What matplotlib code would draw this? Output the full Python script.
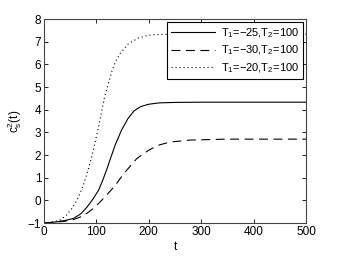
import matplotlib
matplotlib.use("Agg")
import matplotlib.pyplot as plt

# values
t_a = [0, 20, 40, 56, 70, 82, 93, 104, 112, 120, 128, 136, 148, 160, 172, 185, 200, 220, 250, 300, 400, 500]
c_a = [-1.0, -0.96, -0.89, -0.8, -0.6, -0.3, 0.04, 0.44, 0.88, 1.38, 1.92, 2.45, 3.1, 3.6, 3.95, 4.14, 4.24, 4.3, 4.32, 4.33, 4.33, 4.33]

t_b = [0, 20, 40, 55, 69, 82, 94, 105, 116, 126, 136, 145, 155, 166, 177, 190, 202, 218, 240, 280, 350, 500]
c_b = [-1.0, -0.97, -0.92, -0.86, -0.74, -0.57, -0.36, -0.12, 0.15, 0.4, 0.66, 0.95, 1.25, 1.55, 1.84, 2.06, 2.24, 2.43, 2.57, 2.66, 2.7, 2.7]

t_c = [0, 15, 30, 42, 53, 60, 66, 75, 85, 94, 104, 110, 116, 123, 129, 136, 145, 161, 180, 199, 215, 240, 300, 500]
c_c = [-1.0, -0.96, -0.88, -0.68, -0.36, -0.1, 0.15, 0.66, 1.4, 2.2, 3.23, 3.9, 4.6, 5.15, 5.66, 6.1, 6.47, 6.91, 7.16, 7.28, 7.31, 7.33, 7.33, 7.33]

labels = ["T$_1$=\u221225,T$_2$=100", "T$_1$=\u221230,T$_2$=100", "T$_1$=\u221220,T$_2$=100"]

plt.rcParams['font.family'] = ['Liberation Sans', 'DejaVu Sans']
plt.rcParams['mathtext.fontset'] = 'custom'
plt.rcParams['mathtext.rm'] = 'Liberation Sans'
plt.rcParams['mathtext.it'] = 'Liberation Sans'
plt.rcParams['axes.unicode_minus'] = True

fig = plt.figure(figsize=(3.39, 2.56), dpi=100)
ax = fig.add_axes([44 / 339, 1 - 223 / 256, 262 / 339, 204 / 256])

ax.plot(t_a, c_a, color='black', lw=0.8, ls='-', label=labels[0])
ax.plot(t_b, c_b, color='black', lw=0.8, ls=(0, (8, 5)), label=labels[1])
ax.plot(t_c, c_c, color='black', lw=0.8, ls=(0, (1, 2.6)), label=labels[2])

ax.set_xlim(0, 500)
ax.set_ylim(-1, 8)
ax.set_xticks(range(0, 501, 100))
ax.set_yticks(range(-1, 9))
ax.tick_params(direction='in', top=True, right=True, labelsize=8.5, length=3, width=0.6, pad=2)
for sp in ax.spines.values():
    sp.set_linewidth(0.8)
    sp.set_color('#444444')

ax.set_xlabel('t', fontsize=8.5, labelpad=2)
ax.set_ylabel('c$_s^2$(t)', fontsize=8.5, labelpad=3)

leg = ax.legend(loc='upper right', fontsize=8, frameon=True, fancybox=False,
                edgecolor='black', framealpha=1, borderaxespad=0.3,
                handlelength=4.0, handletextpad=0.5, labelspacing=0.35,
                borderpad=0.35)
leg.get_frame().set_linewidth(0.8)

fig.savefig('out.png', dpi=100)
